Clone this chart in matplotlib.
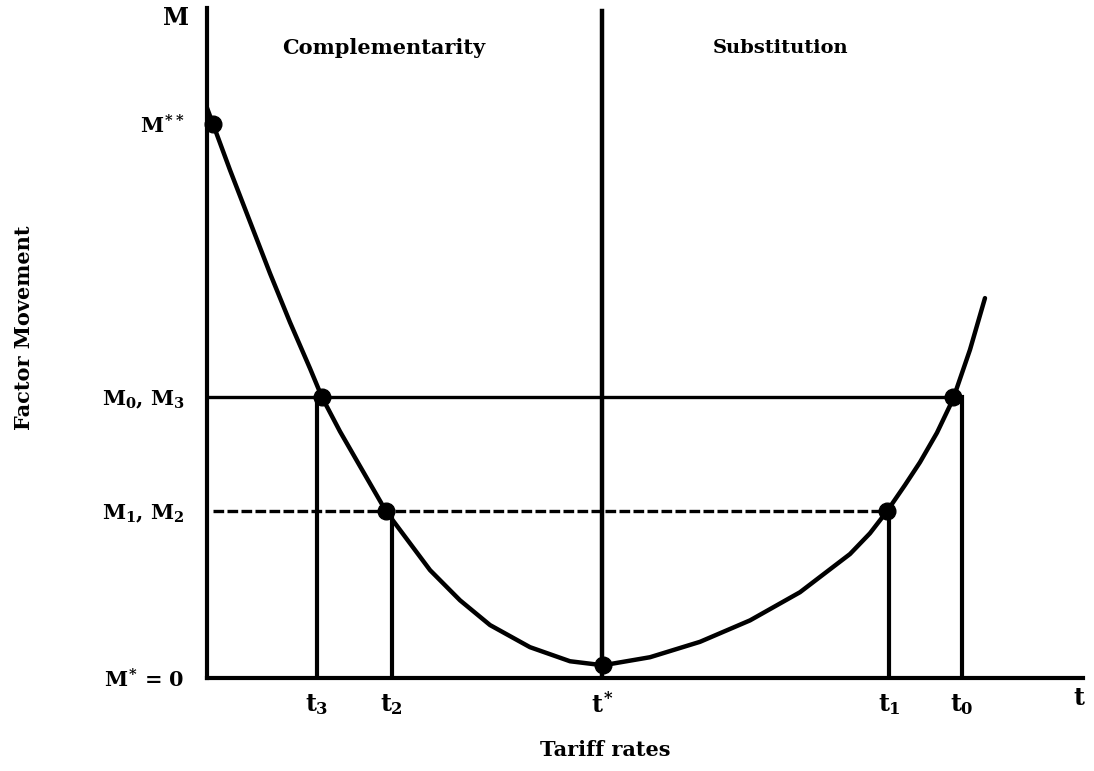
import numpy as np
import matplotlib
matplotlib.use("Agg")
import matplotlib.pyplot as plt

plt.rcParams['font.family'] = 'DejaVu Serif'
plt.rcParams['font.weight'] = 'bold'
plt.rcParams['mathtext.fontset'] = 'custom'
plt.rcParams['mathtext.rm'] = 'DejaVu Serif:bold'
plt.rcParams['mathtext.it'] = 'DejaVu Serif:bold'
plt.rcParams['mathtext.bf'] = 'DejaVu Serif:bold'

# curve (tariff rate, factor movement)
curve_t = [0.0, 0.068, 0.263, 0.491, 0.719, 0.947, 1.176, 1.313, 1.518, 1.747,
           2.043, 2.203, 2.546, 2.888, 3.231, 3.687, 4.144, 4.521,
           5.057, 5.628, 6.199, 6.769, 7.340, 7.568, 7.763, 7.968, 8.139,
           8.333, 8.516, 8.710, 8.881]
curve_m = [8.51, 8.27, 7.58, 6.81, 6.04, 5.31, 4.62, 4.19, 3.68, 3.16,
           2.49, 2.21, 1.61, 1.16, 0.79, 0.46, 0.25, 0.19,
           0.31, 0.54, 0.86, 1.28, 1.85, 2.16, 2.49, 2.88, 3.22,
           3.66, 4.16, 4.90, 5.67]

# marked points
dot_t = [0.07, 1.31, 2.04, 4.52, 7.76, 8.52]
dot_m = [8.27, 4.19, 2.49, 0.19, 2.49, 4.19]

# tariff levels
t_vals = [1.25, 2.11, 4.51, 7.79, 8.62]
t_labels = ['$t_3$', '$t_2$', '$t^{*}$', '$t_1$', '$t_0$']

# factor movement levels
m_vals = [0.0, 2.49, 4.19, 8.27]
m_labels = ['$M^{*}$ = 0', '$M_1$, $M_2$', '$M_0$, $M_3$', '$M^{**}$']
m0, m1 = 4.19, 2.49

fig = plt.figure(figsize=(10.94, 7.71), dpi=100)
ax = fig.add_axes([207 / 1094, 93 / 771, 876 / 1094, 670 / 771])
ax.set_xlim(0, 10)
ax.set_ylim(0, 10)

for s in ['top', 'right']:
    ax.spines[s].set_visible(False)
for s in ['left', 'bottom']:
    ax.spines[s].set_linewidth(3)

# reference lines
ax.plot([0, t_vals[4]], [m0, m0], color='black', lw=2.4, solid_capstyle='butt')
ax.plot([dot_t[0], dot_t[4]], [m1, m1], color='black', lw=2.4,
        linestyle=(0, (3.2, 1.0)))
ax.plot([t_vals[0], t_vals[0]], [0, m0], color='black', lw=3)
ax.plot([t_vals[1], t_vals[1]], [0, m1], color='black', lw=3)
ax.plot([t_vals[3], t_vals[3]], [0, m1], color='black', lw=3)
ax.plot([t_vals[4], t_vals[4]], [0, m0], color='black', lw=3)
ax.plot([t_vals[2], t_vals[2]], [0, 9.95], color='black', lw=3.2)

# curve and points
ax.plot(curve_t, curve_m, color='black', lw=3.2, solid_capstyle='round',
        solid_joinstyle='round')
ax.plot(dot_t, dot_m, 'o', color='black', markersize=12, clip_on=False)

ax.set_xticks(t_vals)
ax.set_xticklabels(t_labels, fontsize=17)
ax.set_yticks(m_vals)
ax.set_yticklabels(m_labels, fontsize=15)
ax.tick_params(axis='both', length=0)
ax.tick_params(axis='x', pad=10)
ax.tick_params(axis='y', pad=16)

ax.text(-0.2, 9.85, 'M', ha='right', va='center', fontsize=17)
ax.text(9.95, -0.3, 't', ha='center', va='center', fontsize=17)
ax.text(2.02, 9.4, 'Complementarity', ha='center', va='center', fontsize=15)
ax.text(6.55, 9.4, 'Substitution', ha='center', va='center', fontsize=14)

fig.text(605 / 1094, 1 - 750 / 771, 'Tariff rates', ha='center', va='center',
         fontsize=15)
fig.text(24 / 1094, 1 - 328 / 771, 'Factor Movement', ha='center', va='center',
         rotation=90, fontsize=15)

fig.savefig('out.png', dpi=100)
